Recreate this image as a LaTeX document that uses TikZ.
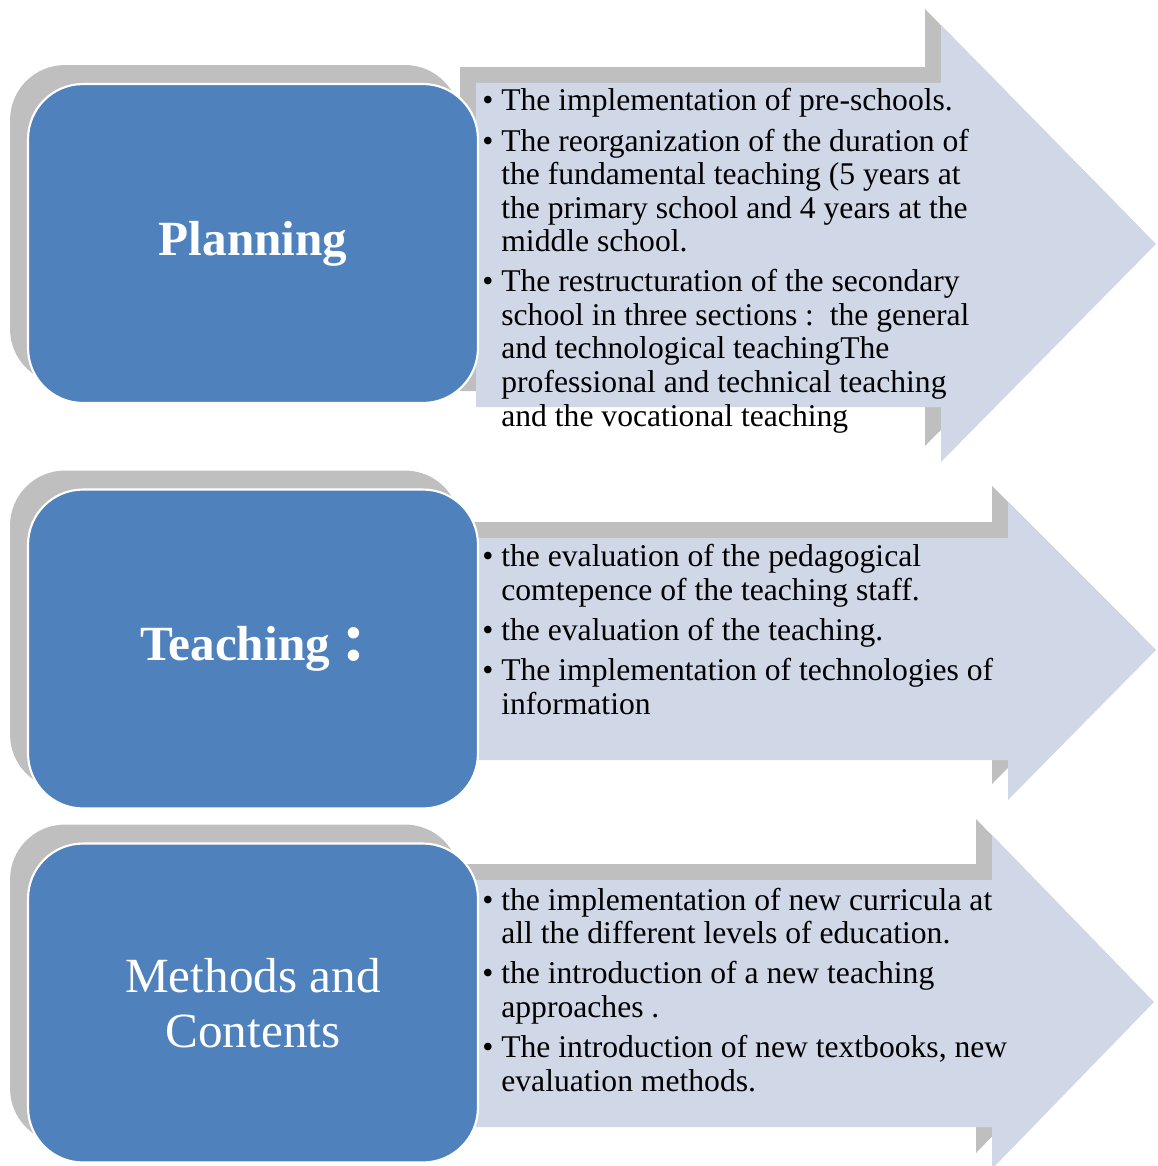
\documentclass[tikz,border=0pt]{standalone}
\usepackage{fontspec}
\setmainfont{Liberation Serif}
\usetikzlibrary{shadows}

\definecolor{boxblue}{HTML}{4F81BD}
\definecolor{arrowfill}{HTML}{D0D7E6}
\definecolor{shadowgray}{HTML}{BFBFBF}

% bullet and hanging indent for the lists
\newcommand{\bul}{\makebox[0.38cm][l]{\textbullet}}
\newcommand{\ind}{\hspace*{0.38cm}}

\begin{document}
\begin{tikzpicture}[
  x=0.02cm, y=-0.02cm,
  catbox/.style={rectangle, rounded corners=1.1cm, fill=boxblue, draw=white, line width=1.2pt,
    minimum width=9cm, minimum height=6.38cm, text=white, align=center,
    general shadow={fill=shadowgray, shadow xshift=-0.36cm, shadow yshift=0.38cm}},
  flow/.style={fill=arrowfill,
    general shadow={fill=shadowgray, shadow xshift=-0.32cm, shadow yshift=0.32cm}},
  points/.style={anchor=base west, inner sep=0pt, align=left, font=\fontsize{18}{19.1}\selectfont}
]
\useasboundingbox (0,0) rectangle (1158,1166);

% arrows
\fill[flow] (476,83) -- (941,83) -- (941,25) -- (1156,244) -- (941,462) -- (941,407) -- (476,407) -- cycle;
\fill[flow] (476,538) -- (1008,538) -- (1008,502) -- (1156,650) -- (1008,800) -- (1008,760) -- (476,760) -- cycle;
\fill[flow] (476,880) -- (992,880) -- (992,835) -- (1154,1002) -- (992,1169) -- (992,1127) -- (476,1127) -- cycle;

% category boxes
\node[catbox, font=\fontsize{28}{31}\selectfont\bfseries] (plan) at (253,243.5) {Planning};
\node[catbox, font=\fontsize{28}{31}\selectfont\bfseries] (teach) at (253,649) {Teaching {\fontsize{40}{40}\selectfont :}};
\node[catbox, font=\fontsize{28}{31.3}\selectfont] (method) at (253,1003) {Methods and\\Contents};

% lists (anchored on the baseline of their last line)
\node[points] (plantext) at (482,426) {%
  \bul The implementation of pre-schools.\\[3.7pt]
  \bul The reorganization of the duration of\\
  \ind the fundamental teaching (5 years at\\
  \ind the primary school and 4 years at the\\
  \ind middle school.\\[3.7pt]
  \bul The restructuration of the secondary\\
  \ind school in three sections :\ \ the general\\
  \ind and technological teachingThe\\
  \ind professional and technical teaching\\
  \ind and the vocational teaching};
\node[points] (teachtext) at (482,714) {%
  \bul the evaluation of the pedagogical\\
  \ind comtepence of the teaching staff.\\[3.7pt]
  \bul the evaluation of the teaching.\\[3.7pt]
  \bul The implementation of technologies of\\
  \ind information};
\node[points] (methodtext) at (482,1091) {%
  \bul the implementation of new curricula at\\
  \ind all the different levels of education.\\[3.7pt]
  \bul the introduction of a new teaching\\
  \ind approaches .\\[3.7pt]
  \bul The introduction of new textbooks, new\\
  \ind evaluation methods.};
\end{tikzpicture}
\end{document}
